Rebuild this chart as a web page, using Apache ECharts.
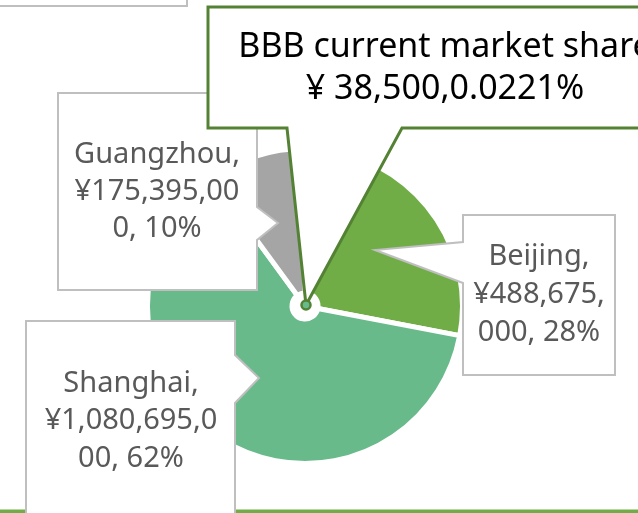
<!DOCTYPE html>
<html>
<head>
<meta charset="utf-8">
<script src="https://cdn.jsdelivr.net/npm/echarts@6/dist/echarts.min.js"></script>
<style>
  html, body { margin: 0; padding: 0; background: #fff; }
  #chart { width: 638px; height: 513px; }
</style>
</head>
<body>
<div id="chart"></div>
<script>
// ---- data ----
const cities = ['Beijing', 'Shanghai', 'Guangzhou'];
const cityValues = [488675000, 1080695000, 175395000];
const bbbName = 'BBB';
const bbbValue = 38500;
const bbbTitle = 'BBB current market share';
const bbbShare = '0.0221%';

// ---- styling / layout ----
const sliceColors = { BBB: '#548235', Beijing: '#70AD47', Shanghai: '#69BA8A', Guangzhou: '#A5A5A5' };
const pieCenter = [305, 306];
const FONT = '"Noto Sans", "Open Sans", sans-serif';
const labelFont = 29;
const callouts = {
  Guangzhou: { poly: [[58,93],[257,93],[257,207],[278,223],[257,240],[257,290],[58,290]], cx: 157, cy: 192, wrapW: 175, lh: 37 },
  Beijing:   { poly: [[463,215],[615,215],[615,375],[463,375],[463,283],[375,250],[463,242]], cx: 539, cy: 295, wrapW: 140, lh: 38 },
  Shanghai:  { poly: [[26,321],[235,321],[235,355],[259,378],[235,403],[235,530],[26,530]], cx: 131, cy: 421, wrapW: 180, lh: 37.5 }
};

const total = cityValues.reduce((a, b) => a + b, 0) + bbbValue;
const fmt = v => v.toLocaleString('en-US');

const measureCtx = document.createElement('canvas').getContext('2d');
function wrapText(text, maxW, font) {
  measureCtx.font = font;
  const m = s => measureCtx.measureText(s).width;
  const words = text.split(' ');
  const lines = [];
  let cur = '';
  for (const w of words) {
    const cand = cur ? cur + ' ' + w : w;
    if (m(cand) <= maxW) { cur = cand; continue; }
    if (cur) { lines.push(cur); cur = ''; }
    if (m(w) <= maxW) { cur = w; continue; }
    let part = '';
    for (const ch of w) {
      if (part && m(part + ch) > maxW) { lines.push(part); part = ch; }
      else part += ch;
    }
    cur = part;
  }
  if (cur) lines.push(cur);
  return lines.join('\n');
}

const pieData = [{ name: bbbName, value: bbbValue }].concat(
  cities.map((c, i) => ({ name: c, value: cityValues[i] }))
).map(d => ({ ...d, itemStyle: { color: sliceColors[d.name] } }));

const graphics = [];
// chart-area border (bottom edge visible)
graphics.push({
  type: 'rect', z: 50, silent: true,
  shape: { x: -10, y: -10, width: 660, height: 521.25 },
  style: { fill: null, stroke: '#70AD47', lineWidth: 3.5 }
});
// cut-off box at top-left
graphics.push({
  type: 'rect', z: 100, silent: true,
  shape: { x: -10, y: -60, width: 197, height: 66 },
  style: { fill: '#fff', stroke: '#BFBFBF', lineWidth: 2 }
});

cities.forEach((c, i) => {
  const co = callouts[c];
  const pct = Math.round(cityValues[i] / total * 100);
  const full = `${c}, ¥${fmt(cityValues[i])}, ${pct}%`;
  const font = `${labelFont}px ${FONT}`;
  graphics.push({
    type: 'polygon', z: 100, silent: true,
    shape: { points: co.poly },
    style: { fill: '#fff', stroke: '#BFBFBF', lineWidth: 2, lineJoin: 'miter' }
  });
  graphics.push({
    type: 'text', z: 101, silent: true,
    style: {
      text: wrapText(full, co.wrapW, font),
      x: co.cx, y: co.cy,
      fontSize: labelFont, fontFamily: FONT,
      fill: '#595959', align: 'center', verticalAlign: 'middle',
      lineHeight: co.lh
    }
  });
});

// BBB callout
graphics.push({
  type: 'polygon', z: 120, silent: true,
  shape: { points: [[208,7],[682,7],[682,128],[402,128],[pieCenter[0]+1,pieCenter[1]-1],[287,128],[208,128]] },
  style: { fill: '#fff', stroke: '#548235', lineWidth: 3, lineJoin: 'miter' }
});
graphics.push({
  type: 'text', z: 121, silent: true,
  style: {
    text: `${bbbTitle}\n¥ ${fmt(bbbValue)},${bbbShare}`,
    x: 445, y: 68,
    fontSize: 34, fontFamily: FONT,
    fill: '#000', align: 'center', verticalAlign: 'middle',
    lineHeight: 42
  }
});
// BBB marker at pie centre
graphics.push({
  type: 'circle', z: 122, silent: true,
  shape: { cx: pieCenter[0] + 1, cy: pieCenter[1] - 1, r: 4.5 },
  style: { fill: '#69BA8A', stroke: '#548235', lineWidth: 2.5 }
});

const chart = echarts.init(document.getElementById('chart'), null, { renderer: 'canvas' });
chart.setOption({
  animation: false,
  backgroundColor: '#fff',
  series: [{
    type: 'pie',
    center: pieCenter,
    radius: [13, 157.5],
    startAngle: 90,
    clockwise: true,
    silent: true,
    label: { show: false },
    labelLine: { show: false },
    emphasis: { disabled: true },
    itemStyle: { borderColor: '#fff', borderWidth: 5 },
    data: pieData
  }],
  graphic: { elements: graphics }
});
</script>
</body>
</html>
